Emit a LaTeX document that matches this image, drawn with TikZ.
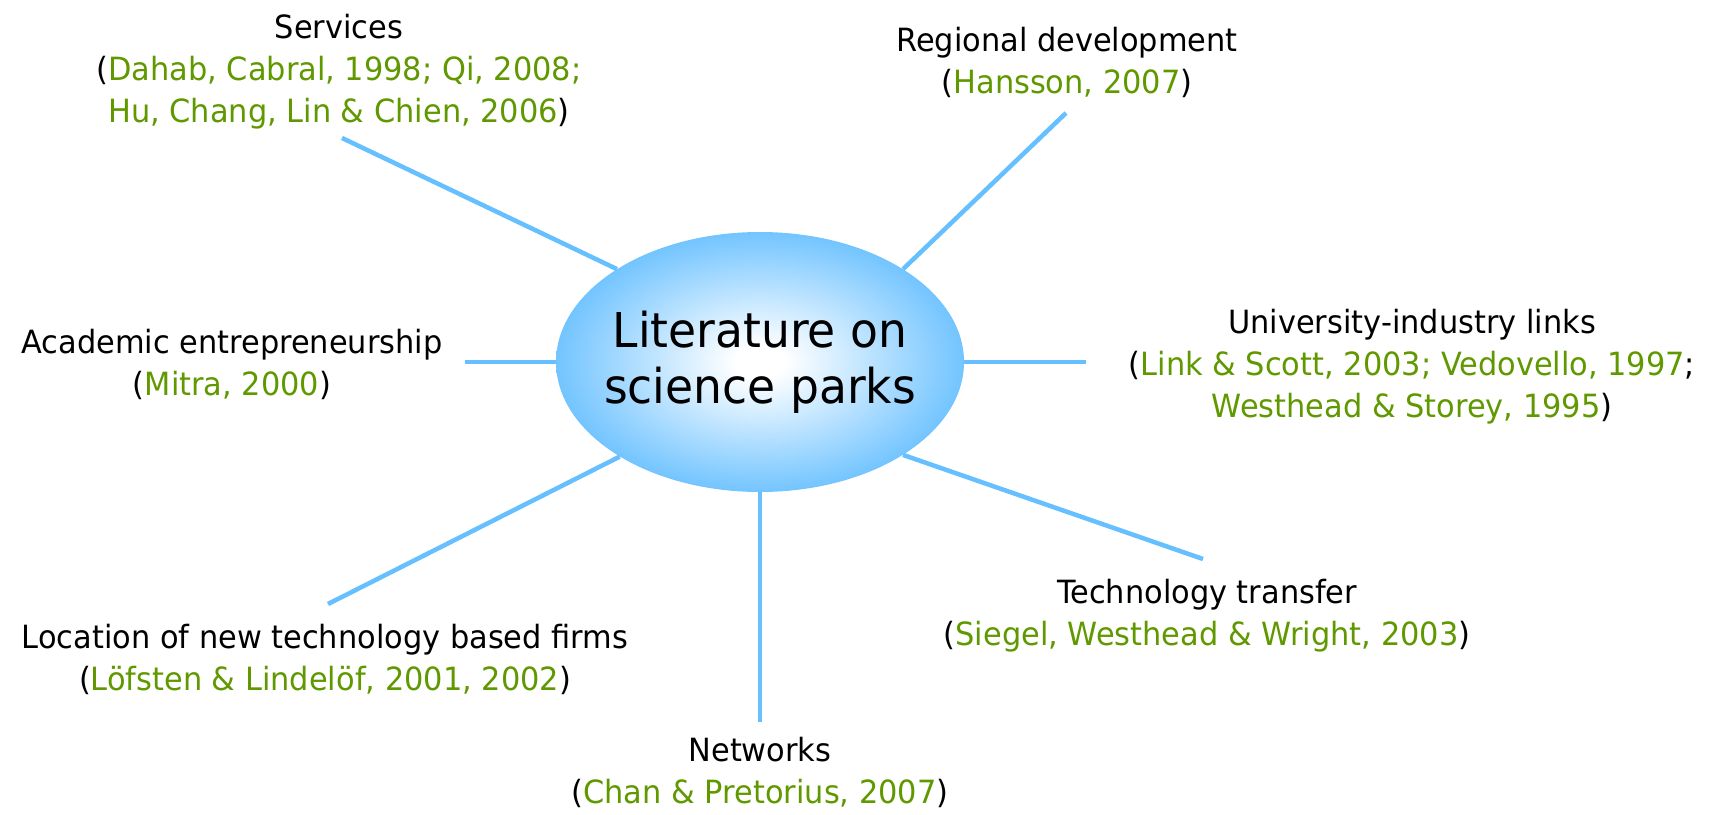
\documentclass[tikz,border=0pt]{standalone}
\usepackage{fontspec}
\setmainfont{DejaVu Sans}[FakeStretch=0.95]
\usetikzlibrary{shapes.geometric}
\definecolor{linkblue}{RGB}{102,191,255}
\definecolor{refgreen}{RGB}{96,152,0}
\newcommand{\greentext}[1]{\textcolor{refgreen}{#1}}
\pgfdeclareradialshading{hubshade}{\pgfpoint{0bp}{0bp}}{color(0bp)=(white); color(3bp)=(white); color(27bp)=(linkblue); color(50bp)=(linkblue)}
\tikzset{
  % centre: shaded ellipse with the big title
  hub/.style = {ellipse, align=center, inner ysep=0pt, inner xsep=-30pt, minimum width=408pt, minimum height=260pt,
    shading=hubshade, font=\fontsize{48}{56}\selectfont},
  % topics round it, anchored on the baseline of their last line
  topic/.style = {align=center, inner sep=0pt, anchor=base, font=\fontsize{32}{42}\selectfont},
  spoke/.style = {draw=linkblue, line width=4.5pt}
}

\begin{document}
\begin{tikzpicture}[x=1pt,y=-1pt]
  \useasboundingbox (0,0) rectangle (1713,814);
  % Centre node:
  \node [hub] (lit) at (760,362) {Literature on\\science parks};
  % free ends of the spokes
  \coordinate (svc-end) at (342,138);
  \coordinate (reg-end) at (1066,113);
  \coordinate (acad-end) at (465,362);
  \coordinate (univ-end) at (1086,362);
  \coordinate (loc-end) at (328,604);
  \coordinate (net-end) at (760,722);
  \coordinate (tech-end) at (1203,559);
  % Spokes:
  \draw [spoke] (lit.147) -- (svc-end);
  \draw [spoke] (lit.33) -- (reg-end);
  \draw [spoke] (lit.180) -- (acad-end);
  \draw [spoke] (lit.0) -- (univ-end);
  \draw [spoke] (lit.-146) -- (loc-end);
  \draw [spoke] (lit.-90) -- (net-end);
  \draw [spoke] (lit.-33) -- (tech-end);
  % Topics with their references:
  \node [topic] (svc) at (339,122) {Services\\(\greentext{Dahab, Cabral, 1998; Qi, 2008;}\\\greentext{Hu, Chang, Lin \& Chien, 2006})};
  \node [topic] (reg) at (1067,93) {Regional development\\(\greentext{Hansson, 2007})};
  \node [topic] (acad) at (232,395) {Academic entrepreneurship\\(\greentext{Mitra, 2000})};
  \node [topic] (univ) at (1412,417) {University-industry links\\(\greentext{Link \& Scott, 2003; Vedovello, 1997};\\\greentext{Westhead \& Storey, 1995})};
  \node [topic] (loc) at (325,690) {Location of new technology based firms\\(\greentext{Löfsten \& Lindelöf, 2001, 2002})};
  \node [topic] (tech) at (1207,645) {Technology transfer\\(\greentext{Siegel, Westhead \& Wright, 2003})};
  \node [topic] (net) at (760,803) {Networks\\(\greentext{Chan \& Pretorius, 2007})};
\end{tikzpicture}
\end{document}
